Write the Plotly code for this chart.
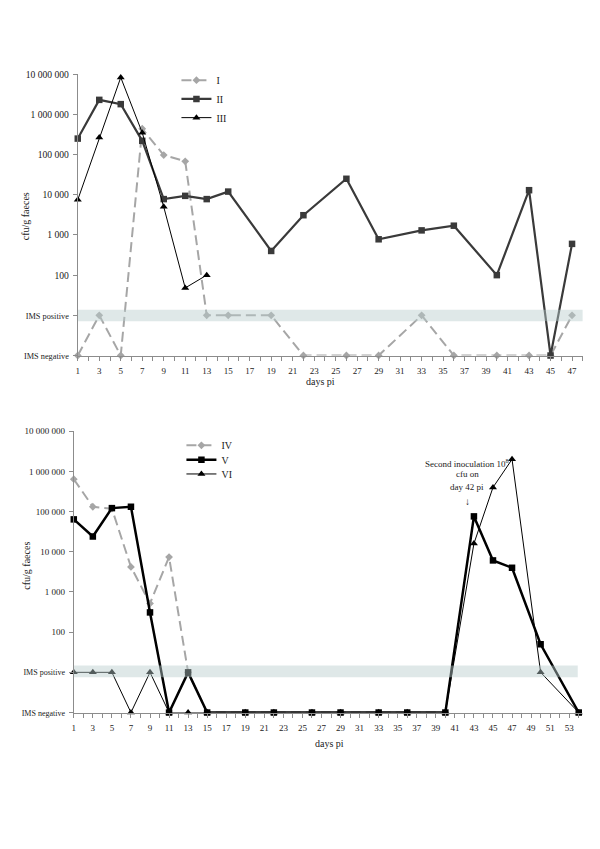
import plotly.graph_objects as go

W, H = 600, 849
OFF = 8  # page body margin offset of the plot div

# ---------------- data ----------------
# value 1 = "IMS negative", 10 = "IMS positive"
days_top = [1, 3, 5, 7, 9, 11, 13, 15, 19, 22, 26, 29, 33, 36, 40, 43, 45, 47]
series_I = [1, 10, 1, 440000, 97000, 68000, 10, 10, 10, 1, 1, 1, 10, 1, 1, 1, 1, 10]
series_II = [250000, 2300000, 1800000, 220000, 7800, 9400, 7800, 12000, 400, 3100,
             25000, 780, 1300, 1700, 100, 13000, 1, 600]
days_III = [1, 3, 5, 7, 9, 11, 13]
series_III = [7500, 265000, 8300000, 350000, 5000, 48, 100]

days_IV = [1, 3, 5, 7, 9, 11, 13, 15, 19, 22, 26, 29, 33, 36, 40]
series_IV = [640000, 132000, 118000, 4200, 520, 7400, 10, 1, 1, 1, 1, 1, 1, 1, 1]
days_V = [1, 3, 5, 7, 9, 11, 13, 15, 19, 22, 26, 29, 33, 36, 40, 43, 45, 47, 50, 54]
series_V = [64000, 24000, 122000, 132000, 310, 1, 10, 1, 1, 1, 1, 1, 1, 1, 1,
            76000, 6100, 4000, 50, 1]
days_VI = [1, 3, 5, 7, 9, 11, 13, 15, 19, 22, 26, 29, 33, 36, 40, 43, 45, 47, 50, 54]
series_VI = [10, 10, 10, 1, 10, 1, 1, 1, 1, 1, 1, 1, 1, 1, 1, 16000, 400000, 2000000, 10, 1]

y_tickvals = [1, 10, 100, 1000, 10000, 100000, 1000000, 10000000]
y_ticktext_top = ['<span style="font-size:8.3px">IMS negative</span>',
                  '<span style="font-size:8.3px">IMS positive</span>',
                  "100", "1 000", "10 000", "100 000", "1 000 000", "10 000 000"]
y_ticktext_bot = ['<span style="font-size:8px">IMS negative</span>',
                  '<span style="font-size:8px">IMS positive</span>',
                  "100", "1 000", "10 000", "100 000", "1 000 000", "10 000 000"]
x_ticks_top = list(range(1, 48, 2))
x_ticks_bot = list(range(1, 54, 2))

FONT = "Liberation Serif, Times New Roman, serif"
GRAY = "#A6A6A6"
AX = "#8C8C8C"


def px_x(p):
    return (p - OFF) / W


def px_y(p):
    return 1 - (p - OFF) / H


fig = go.Figure()

# top panel traces
fig.add_trace(go.Scatter(x=days_top, y=series_I, name="I", mode="lines+markers",
                         line=dict(color=GRAY, width=2, dash="10px,5px"),
                         marker=dict(symbol="diamond", size=6, color=GRAY),
                         xaxis="x", yaxis="y", legend="legend",
                         cliponaxis=False))
fig.add_trace(go.Scatter(x=days_top, y=series_II, name="II", mode="lines+markers",
                         line=dict(color="#3A3A3A", width=2.2),
                         marker=dict(symbol="square", size=6.5, color="#3A3A3A"),
                         xaxis="x", yaxis="y", legend="legend2",
                         cliponaxis=False))
fig.add_trace(go.Scatter(x=days_III, y=series_III, name="III", mode="lines+markers",
                         line=dict(color="#000000", width=1),
                         marker=dict(symbol="triangle-up", size=7, color="#000000"),
                         xaxis="x", yaxis="y", legend="legend3",
                         cliponaxis=False))

# bottom panel traces
fig.add_trace(go.Scatter(x=days_IV, y=series_IV, name="IV", mode="lines+markers",
                         line=dict(color=GRAY, width=2, dash="10px,5px"),
                         marker=dict(symbol="diamond", size=6, color=GRAY),
                         xaxis="x2", yaxis="y2", legend="legend4",
                         cliponaxis=False))
fig.add_trace(go.Scatter(x=days_V, y=series_V, name="V", mode="lines+markers",
                         line=dict(color="#000000", width=2.5),
                         marker=dict(symbol="square", size=6.5, color="#000000"),
                         xaxis="x2", yaxis="y2", legend="legend5",
                         cliponaxis=False))
fig.add_trace(go.Scatter(x=days_VI, y=series_VI, name="VI", mode="lines+markers",
                         line=dict(color="#000000", width=1),
                         marker=dict(symbol="triangle-up", size=7, color="#000000"),
                         xaxis="x2", yaxis="y2", legend="legend6",
                         cliponaxis=False))

common_x = dict(showgrid=False, zeroline=False, showline=True, linecolor=AX, linewidth=1,
                ticks="outside", ticklen=4, tickcolor=AX, tickwidth=1,
                minor=dict(dtick=1, ticks="outside", ticklen=4, tickcolor=AX),
                ticklabelstandoff=3,
                tickfont=dict(family=FONT, size=9, color="#222"))
common_y = dict(type="log", showgrid=False, zeroline=False, showline=True, linecolor=AX,
                linewidth=1, ticks="outside", ticklen=4, tickcolor=AX, tickwidth=1,
                ticklabelstandoff=2, tickvals=y_tickvals, range=[0, 7])


def leg(xp, yp):
    return dict(x=px_x(xp), y=px_y(yp), xanchor="left", yanchor="middle",
                font=dict(family=FONT, size=10, color="#222"),
                bgcolor="rgba(0,0,0,0)", borderwidth=0)


fig.update_layout(
    width=W, height=H,
    margin=dict(l=0, r=0, t=0, b=0),
    paper_bgcolor="white", plot_bgcolor="white",
    font=dict(family=FONT, color="#222"),
    xaxis=dict(common_x, domain=[px_x(76), px_x(582.7)], range=[1, 48],
               tickvals=x_ticks_top, ticktext=[str(d) for d in x_ticks_top],
               anchor="y"),
    yaxis=dict(common_y, domain=[px_y(354), px_y(69)], ticktext=y_ticktext_top,
               tickfont=dict(family=FONT, size=9.6, color="#222"), anchor="x"),
    xaxis2=dict(common_x, domain=[px_x(72), px_x(581.5)], range=[1, 54.3],
                tickvals=x_ticks_bot, ticktext=[str(d) for d in x_ticks_bot],
                anchor="y2"),
    yaxis2=dict(common_y, domain=[px_y(715.7), px_y(430.7)], ticktext=y_ticktext_bot,
                tickfont=dict(family=FONT, size=9, color="#222"), anchor="x2"),
    legend=leg(175, 75),
    legend2=leg(175, 94),
    legend3=leg(175, 113),
    legend4=leg(180, 445),
    legend5=leg(180, 459.5),
    legend6=leg(180, 474),
    showlegend=True,
)

# IMS positive bands (drawn above, semi-transparent)
fig.add_shape(type="rect", xref="x", yref="y", x0=1, x1=48,
              y0=10 ** 0.85, y1=10 ** 1.14, layer="above", line=dict(width=0),
              fillcolor="rgba(185,205,205,0.45)")
fig.add_shape(type="rect", xref="x2", yref="y2", x0=1, x1=53.9,
              y0=10 ** 0.88, y1=10 ** 1.17, layer="above", line=dict(width=0),
              fillcolor="rgba(185,205,205,0.45)")

# axis titles
ann_font = dict(family=FONT, size=10, color="#222")


def note(text, xp, yp, font, angle=0):
    fig.add_annotation(text=text, x=px_x(xp), y=px_y(yp), xref="paper", yref="paper",
                       xanchor="center", yanchor="middle", textangle=angle,
                       showarrow=False, font=font)


note("cfu/g faeces", 23, 213, ann_font, -90)
note("cfu/g faeces", 25, 567, ann_font, -90)
note("days pi", 320, 380, ann_font)
note("days pi", 329, 747, ann_font)

# second inoculation note
note_font = dict(family=FONT, size=9, color="#222")
note("Second inoculation 10<sup>8</sup>", 467, 463, note_font)
note("cfu on", 467, 474, note_font)
note("day 42 pi", 467, 487, note_font)
note("↓", 467, 502, dict(family=FONT, size=10, color="#222"))

fig.write_html("out.html")
